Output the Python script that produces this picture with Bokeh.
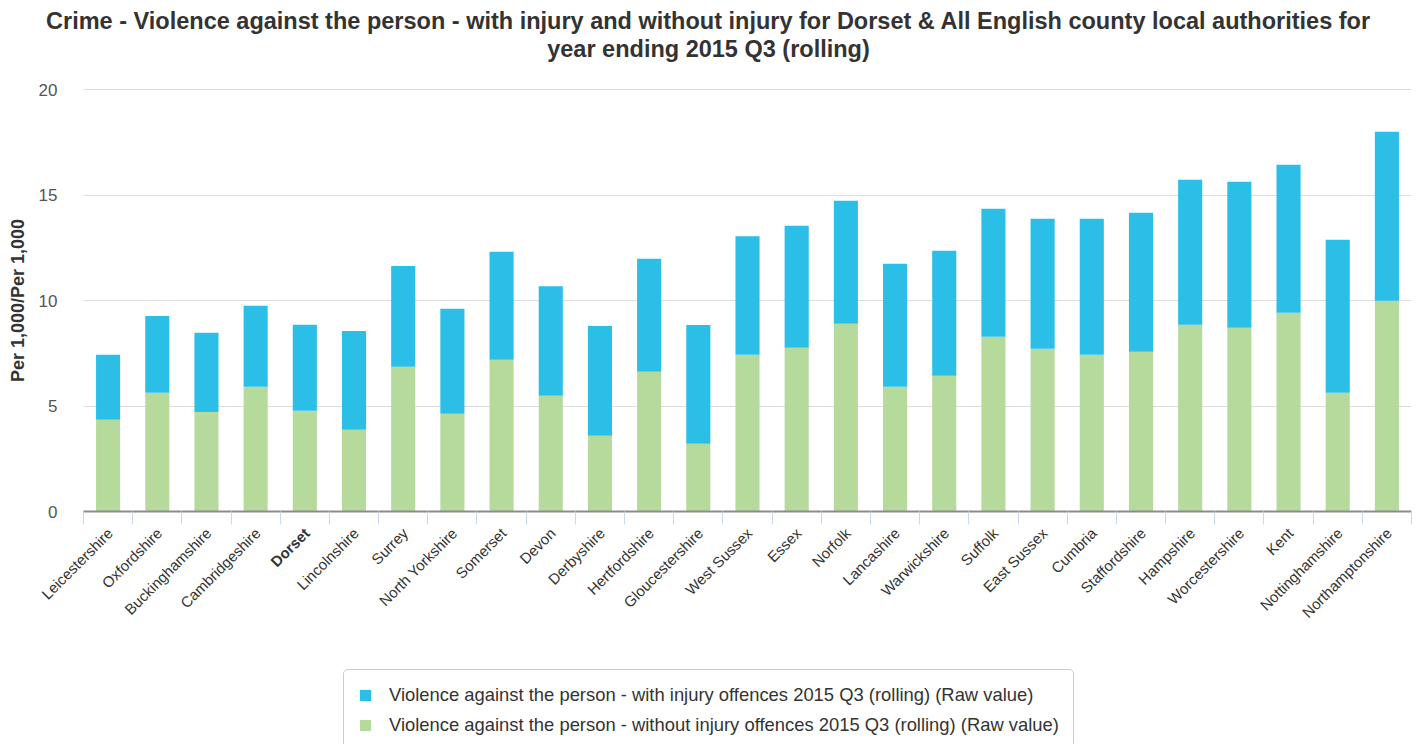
from bokeh.plotting import figure
from bokeh.models import (ColumnDataSource, LabelSet, Label, Legend, LegendItem,
                          FixedTicker, Range1d)
from bokeh.embed import file_html
from bokeh.resources import INLINE
from bokeh.core.properties import value

counties = ["Leicestershire", "Oxfordshire", "Buckinghamshire", "Cambridgeshire", "Dorset",
            "Lincolnshire", "Surrey", "North Yorkshire", "Somerset", "Devon", "Derbyshire",
            "Hertfordshire", "Gloucestershire", "West Sussex", "Essex", "Norfolk", "Lancashire",
            "Warwickshire", "Suffolk", "East Sussex", "Cumbria", "Staffordshire", "Hampshire",
            "Worcestershire", "Kent", "Nottinghamshire", "Northamptonshire"]
without_injury = [4.35, 5.63, 4.72, 5.91, 4.77, 3.87, 6.86, 4.63, 7.19, 5.48, 3.59, 6.62, 3.21,
                  7.43, 7.76, 8.90, 5.91, 6.43, 8.28, 7.71, 7.43, 7.57, 8.85, 8.71, 9.42, 5.63, 9.99]
with_injury = [3.08, 3.64, 3.75, 3.84, 4.08, 4.69, 4.78, 4.98, 5.12, 5.20, 5.20, 5.36, 5.63,
               5.61, 5.78, 5.83, 5.83, 5.93, 6.07, 6.16, 6.44, 6.59, 6.87, 6.92, 7.01, 7.25, 8.01]
series_names = ["Violence against the person - with injury offences 2015 Q3 (rolling) (Raw value)",
                "Violence against the person - without injury offences 2015 Q3 (rolling) (Raw value)"]
title_lines = ["Crime - Violence against the person - with injury and without injury for Dorset & All English county local authorities for",
               "year ending 2015 Q3 (rolling)"]
y_ticks = [0, 5, 10, 15, 20]
y_label = "Per 1,000/Per 1,000"
highlight = "Dorset"

BLUE = "#2BBFE8"
GREEN = "#B6DA9C"
FONT = "Liberation Sans"

# layout (pixels on the canvas)
W, H = 1416, 744
PLOT_L, PLOT_R, PLOT_T, PLOT_B = 83, 1411, 89, 511
Y_MAX = y_ticks[-1]

n = len(counties)
xs = list(range(n))
xpx = (PLOT_R - PLOT_L) / n
ypx = (PLOT_B - PLOT_T) / Y_MAX
x_range = Range1d(-0.5 - PLOT_L / xpx, -0.5 + (W - PLOT_L) / xpx)
y_range = Range1d(-(H - PLOT_B) / ypx, Y_MAX + PLOT_T / ypx)

source = ColumnDataSource(dict(x=xs, county=counties, without=without_injury, with_=with_injury))

p = figure(width=W, height=H, output_backend="svg", toolbar_location=None, title=None,
           x_range=x_range, y_range=y_range,
           min_border_left=0, min_border_right=0, min_border_top=0, min_border_bottom=0)
p.outline_line_color = None
p.background_fill_color = "white"
p.border_fill_color = "white"

# grid lines only across the plot area
grid_ok = True
try:
    p.ygrid.cross_bounds = (-0.5, n - 0.5)
except Exception:
    grid_ok = False
p.ygrid.ticker = FixedTicker(ticks=y_ticks)
p.ygrid.grid_line_color = "#dcdcdc" if grid_ok else None
p.ygrid.grid_line_width = 1
p.xgrid.grid_line_color = None
if not grid_ok:
    p.segment(x0=[-0.5] * len(y_ticks), x1=[n - 0.5] * len(y_ticks), y0=y_ticks, y1=y_ticks,
              line_color="#dcdcdc", line_width=1)

r_without, r_with = p.vbar_stack(["without", "with_"], x="x", width=0.49,
                                 fill_color=[GREEN, BLUE], line_color=None, source=source)

# x axis, drawn at y = 0
xa = p.xaxis[0]
xa.fixed_location = 0
xa.bounds = (-0.5, n - 0.5)
xa.ticker = FixedTicker(ticks=[], minor_ticks=[i - 0.5 for i in range(n + 1)])
xa.axis_line_color = "#8c8c8c"
xa.axis_line_width = 2
xa.major_tick_line_color = None
xa.minor_tick_line_color = "#ccd6eb"
xa.minor_tick_out = 13
xa.minor_tick_in = 0
xa.minor_tick_line_width = 1

# y axis, drawn at the left edge of the plot area
ya = p.yaxis[0]
ya.fixed_location = -0.5
ya.bounds = (0, Y_MAX)
ya.ticker = FixedTicker(ticks=y_ticks)
ya.axis_line_color = None
ya.major_tick_line_color = None
ya.minor_tick_line_color = None
ya.major_label_text_font = FONT
ya.major_label_text_font_size = "17px"
ya.major_label_text_color = "#555555"
ya.major_label_standoff = 20
ya.axis_label = y_label
ya.axis_label_text_font = FONT
ya.axis_label_text_font_size = "18px"
ya.axis_label_text_font_style = "bold"
ya.axis_label_text_color = "#333333"
ya.axis_label_standoff = 8

# category labels
norm = [i for i, c in enumerate(counties) if c != highlight]
bold = [i for i, c in enumerate(counties) if c == highlight]
for idx, style in ((norm, "normal"), (bold, "bold")):
    src = ColumnDataSource(dict(x=[xs[i] for i in idx], y=[0] * len(idx),
                                text=[counties[i] for i in idx]))
    p.add_layout(LabelSet(x="x", y="y", text="text", source=src, angle=0.785398,
                          x_offset=2, y_offset=-19, text_align="right", text_baseline="middle",
                          text_font=value(FONT), text_font_size=value("15px"),
                          text_font_style=value(style), text_color=value("#333333")))

# title
for line, top in zip(title_lines, [20.5, 48.5]):
    p.add_layout(Label(x=708, y=H - top, x_units="screen", y_units="screen", text=line,
                       text_align="center", text_baseline="middle", text_font=FONT,
                       text_font_size="23.5px", text_font_style="bold", text_color="#333333"))

LEG_L, LEG_T, LEG_H = 343, 670, 81
legend = Legend(items=[LegendItem(label=series_names[0], renderers=[r_with]),
                       LegendItem(label=series_names[1], renderers=[r_without])],
                location=(LEG_L, H - LEG_T - LEG_H), orientation="vertical",
                glyph_width=14, glyph_height=14, label_standoff=17, label_height=20,
                spacing=8, padding=14, margin=0,
                label_text_font=FONT, label_text_font_size="18.4px", label_text_color="#333333",
                border_line_color="#999999", border_line_width=1,
                background_fill_color="white", background_fill_alpha=1)
try:
    legend.border_radius = 5
except Exception:
    pass
p.add_layout(legend, "center")

open("out.html", "w").write(file_html(p, INLINE))
